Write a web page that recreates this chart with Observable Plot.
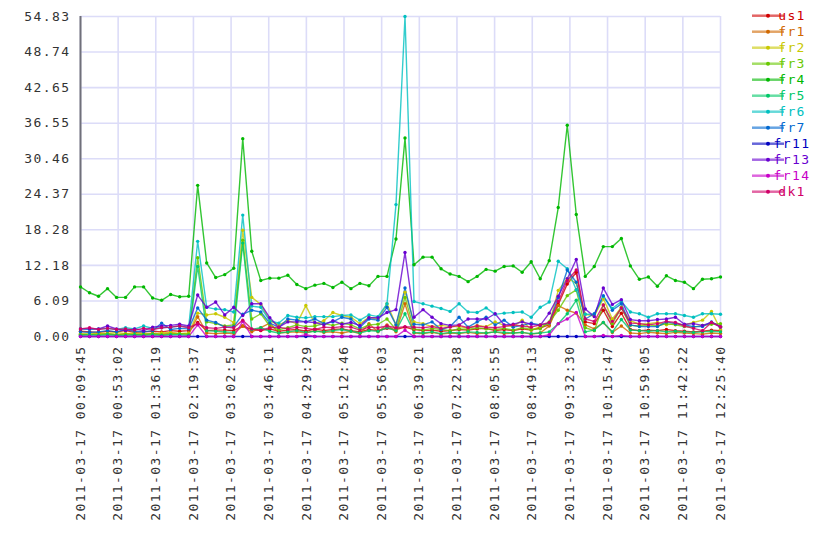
<!DOCTYPE html>
<html>
<head>
<meta charset="utf-8">
<script src="https://cdn.jsdelivr.net/npm/d3@7"></script>
<script src="https://cdn.jsdelivr.net/npm/@observablehq/plot@0.6"></script>
<style>
  html, body { margin: 0; padding: 0; background: #fff; }
  #chart { width: 840px; height: 560px; }
</style>
</head>
<body>
<div id="chart"></div>
<script>
const day = "2011-03-17";
const times = ["00:09:45","00:20:07","00:30:29","00:40:51","00:51:13","01:01:34","01:11:56","01:22:18","01:32:40","01:43:02",
"01:53:24","02:03:46","02:14:08","02:24:30","02:34:52","02:45:13","02:55:35","03:05:57","03:16:19","03:26:41",
"03:37:03","03:47:25","03:57:47","04:08:09","04:18:31","04:28:52","04:39:14","04:49:36","04:59:58","05:10:20",
"05:20:42","05:31:04","05:41:26","05:51:48","06:02:10","06:12:31","06:22:53","06:33:15","06:43:37","06:53:59",
"07:04:21","07:14:43","07:25:05","07:35:27","07:45:49","07:56:10","08:06:32","08:16:54","08:27:16","08:37:38",
"08:48:00","08:58:22","09:08:44","09:19:06","09:29:28","09:39:49","09:50:11","10:00:33","10:10:55","10:21:17",
"10:31:39","10:42:01","10:52:23","11:02:45","11:13:07","11:23:28","11:33:50","11:44:12","11:54:34","12:04:56",
"12:15:18","12:25:40"];
const xTickLabels = ["00:09:45","00:53:02","01:36:19","02:19:37","03:02:54","03:46:11","04:29:29","05:12:46","05:56:03",
"06:39:21","07:22:38","08:05:55","08:49:13","09:32:30","10:15:47","10:59:05","11:42:22","12:25:40"];
const yTickValues = [0.00, 6.09, 12.18, 18.28, 24.37, 30.46, 36.55, 42.65, 48.74, 54.83];

const seriesNames = ["us1","fr1","fr2","fr3","fr4","fr5","fr6","fr7","fr11","fr13","fr14","dk1"];
const seriesColors = ["#d00000","#d06800","#c8c800","#68c800","#00b800","#00c868","#00c0c0","#0068d0","#0000c0","#6800d0","#c800c8","#d00068"];

const us1 = [0.9,0.8,0.7,0.9,0.8,1.0,0.7,0.8,0.9,0.8,1.0,0.9,1.0,
 2.4,1.0,1.1,1.1,1.0,1.8,1.2,1.0,
 1.3,0.9,1.1,1.2,0.9,1.3,1.0,1.2,1.3,1.0,0.8,1.2,1.0,1.4,1.2,1.6,
 1.2,1.0,1.1,0.9,1.0,1.2,1.1,1.3,1.4,1.0,1.2,1.0,1.3,1.1,1.5,2.0,
 5.5,9.0,11.0,2.5,2.2,4.5,1.7,4.0,1.2,1.0,1.1,1.0,1.2,1.0,0.9,0.8,0.9,1.1,1.0];
const fr1 = [0.4,0.3,0.5,0.4,0.3,0.5,0.4,0.3,0.5,0.4,0.6,0.5,0.4,
 3.4,0.6,0.5,0.6,0.5,1.8,0.8,1.5,
 2.3,0.6,0.7,0.8,0.6,1.0,0.7,0.8,0.6,0.9,0.5,2.2,0.8,2.0,0.8,5.6,
 0.6,0.5,0.7,0.4,0.6,0.5,0.7,0.5,0.6,0.8,0.5,0.6,0.7,0.4,0.6,1.8,
 5.3,4.5,4.0,2.0,1.3,2.4,0.7,1.8,0.6,0.5,0.7,0.6,0.5,0.7,0.6,0.5,0.4,0.6,0.5];
const fr2 = [0.5,0.4,0.6,0.5,0.7,0.5,0.6,0.5,0.4,0.6,0.7,0.5,0.6,
 4.0,3.7,3.9,3.3,2.4,18.2,6.7,5.5,
 2.7,2.0,2.7,2.2,5.3,2.2,2.7,4.1,3.6,3.3,2.2,3.3,3.0,5.6,2.0,7.6,
 2.5,2.2,1.7,1.9,1.7,1.7,1.4,1.9,1.7,2.5,1.9,1.7,2.8,1.1,1.7,2.2,
 7.9,9.9,9.2,3.8,3.5,6.5,3.0,5.0,2.7,2.1,2.2,2.4,2.0,2.2,2.0,2.4,2.8,4.3,1.2];
const fr3 = [0.3,0.4,0.3,0.5,0.3,0.4,0.3,0.4,0.5,0.3,0.4,0.5,0.4,
 13.5,2.5,2.2,1.8,2.0,16.5,3.0,3.9,
 1.8,1.2,1.5,2.0,1.7,1.8,2.2,1.9,2.3,2.0,1.3,2.0,2.1,3.0,1.2,6.7,
 1.3,1.1,1.4,1.2,1.0,1.3,1.2,1.5,1.3,1.2,1.4,1.1,1.5,1.2,1.3,2.5,
 4.5,7.0,8.0,1.5,1.0,5.4,2.2,4.9,1.9,1.8,2.0,1.8,2.2,2.0,1.7,1.6,1.9,2.1,2.2];
const fr4 = [8.5,7.5,6.9,8.2,6.7,6.7,8.5,8.5,6.6,6.2,7.2,6.8,6.9,
 25.9,12.6,10.1,10.6,11.7,33.9,14.6,9.6,
 10.0,10.0,10.5,8.9,8.2,8.8,9.1,8.4,9.3,8.2,9.1,8.7,10.3,10.3,16.7,34.0,
 12.3,13.6,13.6,11.6,10.7,10.3,9.4,10.3,11.5,11.2,12.0,12.1,11.0,12.8,9.9,13.0,
 22.1,36.2,20.9,10.3,12.0,15.4,15.4,16.8,12.1,9.8,10.2,8.6,10.4,9.6,9.3,8.2,9.8,9.9,10.2];
const fr5 = [0.2,0.3,0.2,0.3,0.2,0.2,0.3,0.2,0.3,0.2,0.3,0.3,0.2,
 12.0,1.0,0.9,0.8,0.7,16.0,1.2,1.5,
 0.9,0.6,0.8,1.0,0.7,0.9,0.8,1.0,1.2,0.9,0.6,1.0,0.9,1.5,1.0,3.9,
 0.7,0.6,0.8,0.5,0.7,0.6,0.8,0.7,0.6,0.8,0.7,0.6,0.7,0.5,0.6,0.8,
 2.2,3.9,6.2,0.8,1.1,2.4,0.8,2.9,1.1,1.0,0.9,1.0,0.8,0.9,0.8,0.7,0.8,0.9,0.8];
const fr6 = [1.3,1.2,1.3,1.4,1.2,1.5,1.3,1.8,1.4,1.5,1.6,1.8,1.6,
 16.3,5.0,4.7,4.6,4.2,20.8,5.2,5.0,
 2.7,2.3,3.6,3.3,3.2,3.4,3.4,3.4,3.6,3.7,2.8,3.7,3.4,5.6,22.6,54.83,
 6.0,5.6,5.2,4.8,4.3,5.6,4.2,4.1,4.9,3.8,4.0,4.1,4.2,3.3,5.0,5.9,
 12.9,11.6,8.0,3.8,3.8,6.8,4.8,6.0,4.2,3.9,3.3,3.9,3.9,3.9,3.6,3.3,3.9,3.9,3.8];
const fr7 = [0.8,0.7,0.8,1.0,0.8,1.2,0.9,0.8,1.0,2.3,1.2,1.4,1.3,
 4.9,2.8,2.4,1.6,1.7,3.8,4.5,4.2,
 2.3,1.6,3.0,2.8,2.5,3.0,2.2,2.5,3.3,3.0,1.6,3.0,2.8,5.0,2.0,8.3,
 2.1,2.0,2.5,1.2,1.7,3.3,1.6,2.5,3.3,2.0,2.8,1.6,1.9,2.3,2.0,2.3,
 6.7,11.4,9.3,3.0,3.9,7.0,4.5,5.6,2.0,1.7,1.7,1.7,2.5,2.2,2.0,1.7,1.7,2.5,1.7];
const fr11 = [0,0,0,0,0,0,0,0,0,0,0,0,0,
 0,0,0,0,0,0,0,0,
 0,0,0,0,0,0,0,0,0,0,0,0,0,0,0,0,
 0,0,0,0,0,0,0,0,0,0,0,0,0,0,0,0,
 0,0,0,0,0,0,0,0,0,0,0,0,0,0,0,0,0,0,0];
const fr13 = [1.3,1.3,1.3,1.8,1.3,1.0,1.3,1.0,1.6,1.8,1.9,2.1,1.8,
 7.1,5.0,5.9,3.7,5.0,3.6,5.6,5.6,
 3.2,1.6,2.5,2.5,2.5,2.4,2.0,2.7,2.1,2.4,1.9,3.2,3.2,4.1,4.6,14.4,
 3.3,4.6,3.3,2.2,1.9,2.0,3.0,3.0,3.0,3.9,2.0,2.1,2.5,2.1,1.9,4.0,
 6.9,9.9,13.2,4.7,3.4,8.3,5.5,6.3,2.9,2.7,2.7,2.9,3.0,3.3,2.1,2.2,1.9,2.4,1.6];
const fr14 = [0,0,0,0,0,0,0,0,0,0,0,0,0,
 2.0,0,0,0,0,2.6,0,0,
 0,0,0,0,0.3,0,0,0,0,0,0,0,0,0,0,1.1,
 0,0,0,0,0,0,0,0,0,0,0,0,0,0,0,0.3,
 2.2,3.0,4.1,0,0,0.2,0,0.2,0,0,0,0,0,0,0,0,0,0,0];
const dk1 = [1.3,1.5,1.2,1.4,1.2,1.3,1.1,1.4,1.2,1.5,1.6,1.8,1.5,
 2.2,1.5,1.4,1.6,1.5,2.8,1.3,1.1,
 1.5,1.6,1.3,1.6,1.4,1.2,1.6,1.5,1.7,1.6,1.1,1.6,1.5,1.8,1.5,1.7,
 1.6,1.5,1.7,1.4,1.6,1.9,1.5,1.8,1.6,1.5,1.7,2.0,1.8,1.6,2.0,2.4,
 6.0,9.6,11.4,3.0,2.6,5.4,2.6,4.9,2.3,2.2,2.0,2.2,2.6,2.4,1.8,1.4,1.0,2.4,1.7];

const seriesValues = [us1, fr1, fr2, fr3, fr4, fr5, fr6, fr7, fr11, fr13, fr14, dk1];

const parseT = (s) => new Date(day + "T" + s + "Z");
const data = [];
seriesNames.forEach((name, k) => {
  seriesValues[k].forEach((v, i) => data.push({series: name, time: parseT(times[i]), value: v}));
});
const xTicks = xTickLabels.map(parseT);
const xDomain = [parseT(times[0]), parseT(times[times.length - 1])];
const fmt = d3.utcFormat("%Y-%m-%d %H:%M:%S");

const plot = Plot.plot({
  width: 840,
  height: 560,
  marginLeft: 80,
  marginRight: 120,
  marginTop: 16,
  marginBottom: 224,
  style: {fontFamily: "'DejaVu Sans Mono', monospace", fontSize: "13px", letterSpacing: "1.4px", color: "#333", background: "#fff"},
  x: {type: "utc", domain: xDomain},
  y: {domain: [0, 54.83]},
  color: {domain: seriesNames, range: seriesColors},
  marks: [
    Plot.gridY(yTickValues, {stroke: "#dcdcf8", strokeOpacity: 1, strokeWidth: 1.6}),
    Plot.gridX(xTicks, {stroke: "#dcdcf8", strokeOpacity: 1, strokeWidth: 1.6}),
    Plot.axisY(yTickValues, {tickSize: 0, tickPadding: 10, tickFormat: (d) => d.toFixed(2), label: null, fill: "#333"}),
    Plot.axisX(xTicks, {tickSize: 0, tickPadding: 9, tickRotate: -90, tickFormat: fmt, label: null, fill: "#333"}),
    Plot.ruleX([xDomain[0]], {stroke: "#70707a", strokeWidth: 2}),
    Plot.line(data, {x: "time", y: "value", z: "series", stroke: "series", strokeWidth: 1.4, strokeOpacity: 0.8}),
    Plot.dot(data, {x: "time", y: "value", fill: "series", r: 1.7})
  ]
});
document.getElementById("chart").appendChild(plot);

// legend drawn into the same svg
const svg = d3.select(plot);
const lg = svg.append("g").attr("class", "legend");
seriesNames.forEach((name, k) => {
  const y = 15.7 + 16 * k;
  lg.append("line").attr("x1", 752).attr("x2", 784).attr("y1", y).attr("y2", y)
    .attr("stroke", seriesColors[k]).attr("stroke-opacity", 0.6).attr("stroke-width", 2.5);
  lg.append("circle").attr("cx", 768).attr("cy", y).attr("r", 2).attr("fill", seriesColors[k]);
  lg.append("text").attr("x", 792).attr("y", y + 4.5).attr("fill", seriesColors[k])
    .style("font-family", "'DejaVu Sans Mono', monospace").style("font-size", "13px").style("letter-spacing", "1.4px")
    .text(name);
});
</script>
</body>
</html>
